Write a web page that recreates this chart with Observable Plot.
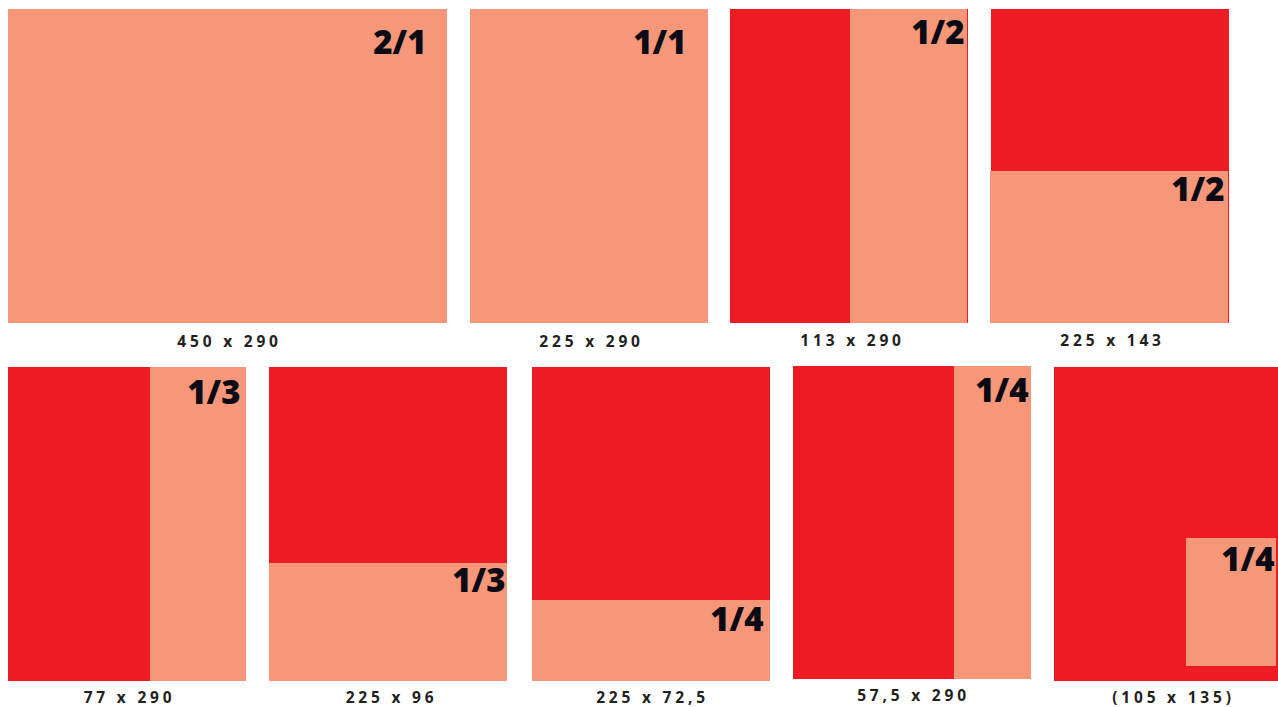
<!DOCTYPE html>
<html>
<head>
<meta charset="utf-8">
<script src="https://cdn.jsdelivr.net/npm/d3@7"></script>
<script src="https://cdn.jsdelivr.net/npm/@observablehq/plot@0.6"></script>
<style>
  html, body { margin: 0; padding: 0; background: #fff; overflow: hidden; }
</style>
</head>
<body>
<div id="chart"></div>
<script>
// Ad format names (fraction of a page) and their sizes in mm
const labels   = ["2/1", "1/1", "1/2", "1/2", "1/3", "1/3", "1/4", "1/4", "1/4"];
const captions = ["450 x 290", "225 x 290", "113 x 290", "225 x 143", "77 x 290", "225 x 96", "225 x 72,5", "57,5 x 290", "(105 x 135)"];

// Page frames (red) in the sheet's layout units
const frameX0 = [8, 470, 730, 991, 8, 269, 532, 793, 1054];
const frameX1 = [447, 708, 968, 1229, 246, 507, 770, 1031, 1292];
const frameY0 = [9, 9, 9, 9, 367, 367, 367, 366, 367];
const frameY1 = [323, 323, 323, 323, 681, 681, 681, 679, 681];

// Ad areas (salmon) in the same layout units
const adX0 = [8, 470, 850, 990, 150, 269, 532, 954, 1186];
const adX1 = [447, 708, 967, 1228, 246, 507, 770, 1031, 1276];
const adY0 = [9, 9, 9, 171, 367, 563, 600, 366, 538];
const adY1 = [323, 323, 323, 323, 681, 681, 681, 679, 666];

// Label anchors (right edge / baseline) and caption anchors (centre / baseline)
const labelX = [426, 686, 964, 1224, 240, 505, 763, 1028, 1274];
const labelY = [53, 53, 43, 200, 403, 591, 630, 401, 570];
const captionX = [227, 589, 850, 1110, 127, 389, 650, 911, 1171];
const captionY = [346, 346, 345, 345, 702, 702, 702, 700, 702];

const panels = labels.map((label, i) => ({
  label, caption: captions[i],
  fx0: frameX0[i], fx1: frameX1[i], fy0: frameY0[i], fy1: frameY1[i],
  ax0: adX0[i], ax1: adX1[i], ay0: adY0[i], ay1: adY1[i],
  lx: labelX[i], ly: labelY[i], cx: captionX[i], cy: captionY[i]
}));

const RED = "#ED1C24";
const SALMON = "#F6977A";

const chart = Plot.plot({
  width: 1278,
  height: 707,
  margin: 0,
  style: { background: "#fff", fontFamily: "'Open Sans', sans-serif" },
  x: { domain: [0, 1278], range: [0, 1278], axis: null },
  y: { domain: [0, 707], range: [0, 707], axis: null },
  marks: [
    Plot.rect(panels, { x1: "fx0", x2: "fx1", y1: "fy0", y2: "fy1", fill: RED }),
    Plot.rect(panels, { x1: "ax0", x2: "ax1", y1: "ay0", y2: "ay1", fill: SALMON }),
    Plot.text(panels, {
      x: "lx", y: "ly", text: "label",
      textAnchor: "end", lineAnchor: "bottom",
      fontSize: 33, fontWeight: 800, fontFamily: "'Open Sans', sans-serif",
      fill: "#0b0b16"
    }),
    Plot.text(panels, {
      x: "cx", y: "cy", text: "caption", dx: 2,
      textAnchor: "middle", lineAnchor: "bottom",
      fontSize: 15.5, fontWeight: "bold", fontFamily: "'Open Sans', sans-serif",
      fill: "#231F20"
    })
  ]
});
d3.select(chart).selectAll("text")
  .filter(function () { return captions.includes(this.textContent); })
  .attr("letter-spacing", "3.8px");
document.getElementById("chart").appendChild(chart);
</script>
</body>
</html>
